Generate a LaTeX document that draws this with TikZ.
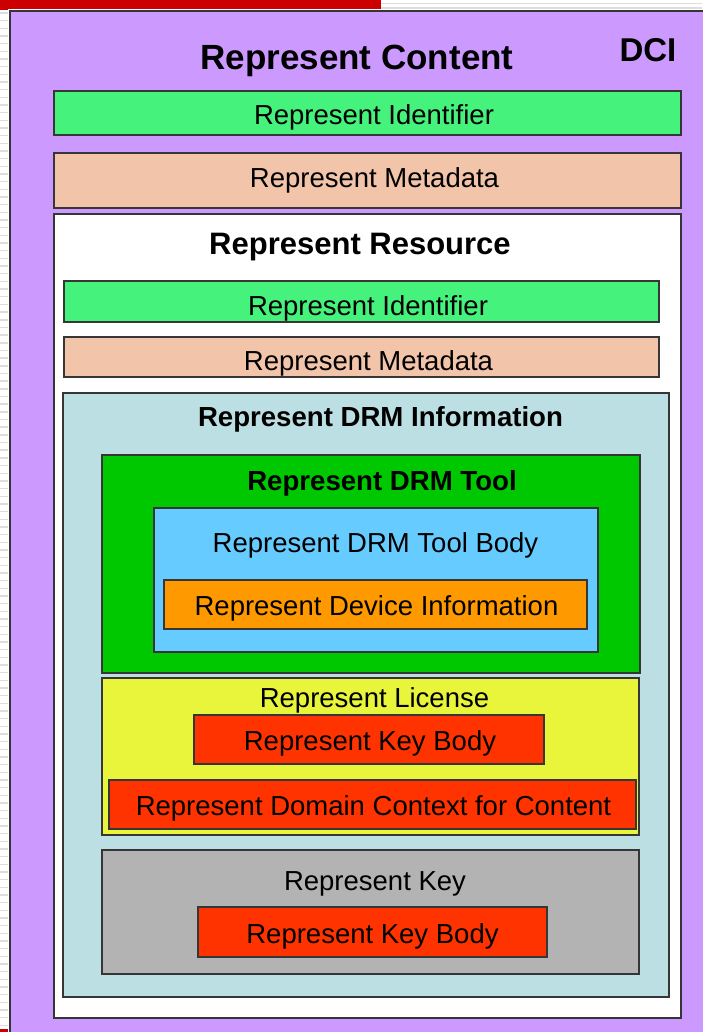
\documentclass[tikz,border=0pt]{standalone}
\usepackage{fontspec}
\setmainfont{Liberation Sans}

\definecolor{dciPurple}{HTML}{CC99FF}
\definecolor{idGreen}{HTML}{45F27C}
\definecolor{metaPeach}{HTML}{F2C5AB}
\definecolor{drmCyan}{HTML}{BBDFE3}
\definecolor{toolGreen}{HTML}{00C800}
\definecolor{bodyBlue}{HTML}{66CCFF}
\definecolor{devOrange}{HTML}{FF9900}
\definecolor{licYellow}{HTML}{E8F53A}
\definecolor{keyRed}{HTML}{FF3300}
\definecolor{keyGrey}{HTML}{B3B3B3}
\definecolor{edge}{HTML}{363636}
\definecolor{barRed}{HTML}{CC0000}
\definecolor{rule}{HTML}{DDDDDD}

% panel: a filled rectangle given by its corners (x1,y1) and (x2,y2)
\newcommand\panelbox[6]{%
  \node[panel,fill=#2,minimum width={#5-#3},minimum height={#6-#4}]
    (#1) at ({(#3+#5)/2},{(#4+#6)/2}) {};}

\tikzset{
  panel/.style={draw=edge,line width=1.6pt,inner sep=0pt,outer sep=0pt,rectangle},
  lbl/.style={anchor=base,inner sep=0pt,text=black},
  txt/.style={lbl,font=\fontsize{27.5}{28}\selectfont},
  head/.style={lbl,font=\fontsize{27.6}{28}\selectfont\bfseries},
}

\begin{document}
\begin{tikzpicture}[x=1pt,y=-1pt]
\useasboundingbox (0,0) rectangle (702,1032);
\fill[white] (0,0) rectangle (702,1032);

% ruled strip on the left and the top bar
\foreach \k in {0,...,133} {
  \draw[rule,line width=1.4pt] (0,{13+7.67*\k}) -- (8,{13+7.67*\k});
}
\draw[rule,line width=1.2pt] (381,3.5) -- (702,3.5);
\draw[rule,line width=1.2pt] (381,8) -- (702,8);
\fill[barRed] (0,0) rectangle (381,9);
\fill[barRed] (0,0) rectangle (8,10);
\fill[barRed] (0,1029) rectangle (8,1032);

% outer DCI frame, running past the right and bottom edges
\panelbox{dci}{dciPurple}{10}{11}{740}{1070}

\panelbox{idBox}{idGreen}{54}{91}{681}{135}
\panelbox{metaBox}{metaPeach}{54}{153}{681}{208}
\panelbox{resource}{white}{54}{214}{681}{1018}
\panelbox{resIdBox}{idGreen}{64}{281}{659}{322}
\panelbox{resMetaBox}{metaPeach}{64}{337}{659}{377}
\panelbox{drmInfo}{drmCyan}{63}{393}{669}{997}
\panelbox{drmTool}{toolGreen}{102}{455}{640}{673}
\panelbox{toolBody}{bodyBlue}{154}{508}{598}{652}
\panelbox{devBox}{devOrange}{164}{580}{587}{629}
\panelbox{license}{licYellow}{102}{678}{639}{835}
\panelbox{licKeyBox}{keyRed}{194}{715}{544}{764}
\panelbox{domainBox}{keyRed}{109}{780}{636}{829}
\panelbox{keyBox}{keyGrey}{102}{850}{639}{974}
\panelbox{keyBodyBox}{keyRed}{198}{907}{547}{957}

% texts
\node[lbl,font=\fontsize{35}{35}\selectfont\bfseries] (tContent) at (357,69.5) {Represent Content};
\node[lbl,font=\fontsize{33}{33}\selectfont\bfseries] (tDci) at (648,62) {DCI};
\node[txt] (tId) at (374,124.5) {Represent Identifier};
\node[txt] (tMeta) at (374.5,188) {Represent Metadata};
\node[lbl,font=\fontsize{31}{31}\selectfont\bfseries] (tRes) at (360,254) {Represent Resource};
\node[txt] (tResId) at (368,315) {Represent Identifier};
\node[txt] (tResMeta) at (368.5,370) {Represent Metadata};
\node[head] (tDrm) at (380.5,426) {Represent DRM Information};
\node[head] (tTool) at (382,490) {Represent DRM Tool};
\node[txt] (tBody) at (375.5,552) {Represent DRM Tool Body};
\node[txt] (tDev) at (376.5,615) {Represent Device Information};
\node[txt] (tLic) at (374.5,707) {Represent License};
\node[txt] (tLicKey) at (370,750) {Represent Key Body};
\node[txt] (tDomain) at (373.5,815) {Represent Domain Context for Content};
\node[txt] (tKey) at (375,890) {Represent Key};
\node[txt] (tKeyBody) at (372.5,943) {Represent Key Body};
\end{tikzpicture}
\end{document}
